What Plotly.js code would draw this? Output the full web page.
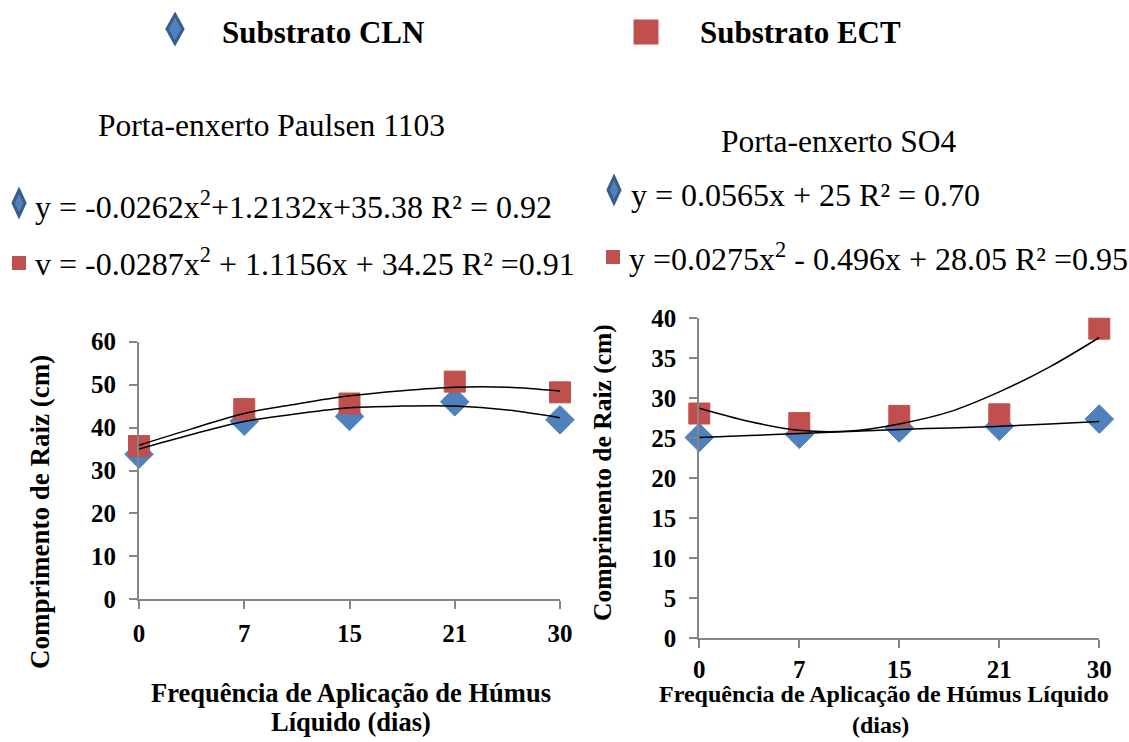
<!DOCTYPE html>
<html><head><meta charset="utf-8">
<script src="https://cdn.plot.ly/plotly-3.0.1.min.js"></script>
<style>body{margin:0;background:#fff}#c{width:1129px;height:742px}</style>
</head><body><div id="c"></div>
<script>
// Categories (equally spaced in the chart)
const dias = ['0','7','15','21','30'];
const catIdx = [0,1,2,3,4];
// Porta-enxerto Paulsen 1103
const p1103_CLN = [33.8, 41.5, 42.6, 46.0, 41.8];
const p1103_ECT = [35.7, 44.3, 45.6, 50.7, 48.2];
// trend lines (category positions and half-steps)
const trendIdx = [0,0.5,1,1.5,2,2.5,3,3.5,4];
const p1103_CLN_trend = [35.0, 38.4, 41.4, 43.2, 44.6, 45.0, 45.0, 44.1, 42.3];
const p1103_ECT_trend = [35.9, 39.7, 43.3, 45.5, 47.4, 48.6, 49.4, 49.4, 48.5];
// Porta-enxerto SO4
const so4_CLN = [25.1, 25.5, 26.3, 26.5, 27.4];
const so4_ECT = [28.1, 26.9, 27.8, 28.0, 38.7];
const so4_CLN_trend = [25.1, 25.35, 25.6, 25.85, 26.1, 26.3, 26.5, 26.8, 27.1];
const so4_ECT_trend = [28.75, 27.1, 26.0, 25.9, 26.8, 28.3, 30.8, 33.9, 37.6];

const W = 1129, H = 742;
const px = x => x / W, py = y => 1 - y / H;
const BLUE = '#4F81BD', BLUE_D = '#385D8A', RED = '#C0504D';
const SERIF = '"Liberation Serif", "Times New Roman", serif';

function pts(xa, ya, y, sym, color, lineColor, size){
  return {x: catIdx, y: y, xaxis: xa, yaxis: ya, type:'scatter', mode:'markers', cliponaxis:false,
    marker:{symbol: sym, size: size, color: color, line:{color: lineColor, width:1}}, showlegend:false, hoverinfo:'skip'};
}
function trend(xa, ya, y){
  return {x: trendIdx, y: y, xaxis: xa, yaxis: ya, type:'scatter', mode:'lines', cliponaxis:false,
    line:{color:'#000', width:1.5, shape:'spline', smoothing:1}, showlegend:false, hoverinfo:'skip'};
}
const data = [
  pts('x','y', p1103_CLN, 'diamond', BLUE, BLUE, 22),
  pts('x','y', p1103_ECT, 'square', RED, RED, 21),
  trend('x','y', p1103_CLN_trend),
  trend('x','y', p1103_ECT_trend),
  pts('x2','y2', so4_CLN, 'diamond', BLUE, BLUE, 22),
  pts('x2','y2', so4_ECT, 'square', RED, RED, 21),
  trend('x2','y2', so4_CLN_trend),
  trend('x2','y2', so4_ECT_trend)
];

const axCommon = {showline:true, linecolor:'#868686', linewidth:2, ticks:'outside', tickcolor:'#868686',
  tickwidth:2, ticklen:8, showgrid:false, zeroline:false, fixedrange:true,
  tickfont:{family:SERIF, size:25, color:'#000', weight:'bold'}};

function diamondPath(cx, cy, w, h){
  return `M ${px(cx)} ${py(cy-h/2)} L ${px(cx+w/2)} ${py(cy)} L ${px(cx)} ${py(cy+h/2)} L ${px(cx-w/2)} ${py(cy)} Z`;
}
function diamondShape(cx, cy, w, h){
  return {type:'path', xref:'paper', yref:'paper', path: diamondPath(cx,cy,w,h),
    fillcolor: BLUE, line:{color: BLUE_D, width:3}};
}
function squareShape(cx, cy, s){
  return {type:'rect', xref:'paper', yref:'paper', x0:px(cx-s/2), x1:px(cx+s/2), y0:py(cy+s/2), y1:py(cy-s/2),
    fillcolor: RED, line:{color: RED, width:0}};
}
function txt(x, y, text, size, bold, opts){
  return Object.assign({xref:'paper', yref:'paper', x:px(x), y:py(y), text:text, showarrow:false,
    xanchor:'left', yanchor:'middle', font:{family:SERIF, size:size, color:'#000', weight: bold?'bold':'normal'}}, opts||{});
}

const layout = {
  width: W, height: H, margin:{l:0,r:0,t:0,b:0}, paper_bgcolor:'#fff', plot_bgcolor:'#fff', showlegend:false,
  font:{family:SERIF},
  xaxis: Object.assign({}, axCommon, {domain:[px(139), px(560)], range:[0,4], tickmode:'array', tickvals:catIdx, ticktext:dias, anchor:'y', ticklabelstandoff:3}),
  yaxis: Object.assign({}, axCommon, {domain:[py(599.3), py(341.7)], range:[0,60], dtick:10, anchor:'x', ticklabelstandoff:8}),
  xaxis2: Object.assign({}, axCommon, {domain:[px(699.3), px(1099.3)], range:[0,4], tickmode:'array', tickvals:catIdx, ticktext:dias, anchor:'y2', ticklabelstandoff:0}),
  yaxis2: Object.assign({}, axCommon, {domain:[py(638.3), py(318.3)], range:[0,40], dtick:5, anchor:'x2', ticklabelstandoff:8}),
  shapes: [
    diamondShape(175, 29, 16, 29),
    squareShape(646, 32, 25),
    diamondShape(19, 203, 12, 26),
    squareShape(19, 263, 14),
    diamondShape(614, 190, 12, 26),
    squareShape(613, 257, 14)
  ],
  annotations: [
    txt(220, 33, 'Substrato CLN', 31, true),
    txt(698, 33, 'Substrato ECT', 31, true),
    txt(96, 125, 'Porta-enxerto Paulsen 1103', 31.5, false),
    txt(719, 141, 'Porta-enxerto SO4', 31.5, false),
    txt(33, 205, 'y = -0.0262x<sup>2</sup>+1.2132x+35.38 R² = 0.92', 32, false),
    txt(33, 262, 'v = -0.0287x<sup>2</sup> + 1.1156x + 34.25 R² =0.91', 32, false),
    txt(629, 195, 'y = 0.0565x + 25 R² = 0.70', 32, false),
    txt(627, 257, 'y =0.0275x<sup>2</sup> - 0.496x + 28.05 R² =0.95', 32, false),
    txt(40, 512, 'Comprimento de Raiz (cm)', 27, true, {xanchor:'center', textangle:-90}),
    txt(603, 473, 'Comprimento de Raiz (cm)', 25.5, true, {xanchor:'center', textangle:-90}),
    txt(351, 693, 'Frequência de Aplicação de Húmus', 26.5, true, {xanchor:'center'}),
    txt(351, 722, 'Líquido (dias)', 26.5, true, {xanchor:'center'}),
    txt(884, 694, 'Frequência de Aplicação de Húmus Líquido', 24, true, {xanchor:'center'}),
    txt(880, 725, '(dias)', 24, true, {xanchor:'center'})
  ]
};
Plotly.newPlot('c', data, layout, {displayModeBar:false, staticPlot:true});
</script>
</body></html>
